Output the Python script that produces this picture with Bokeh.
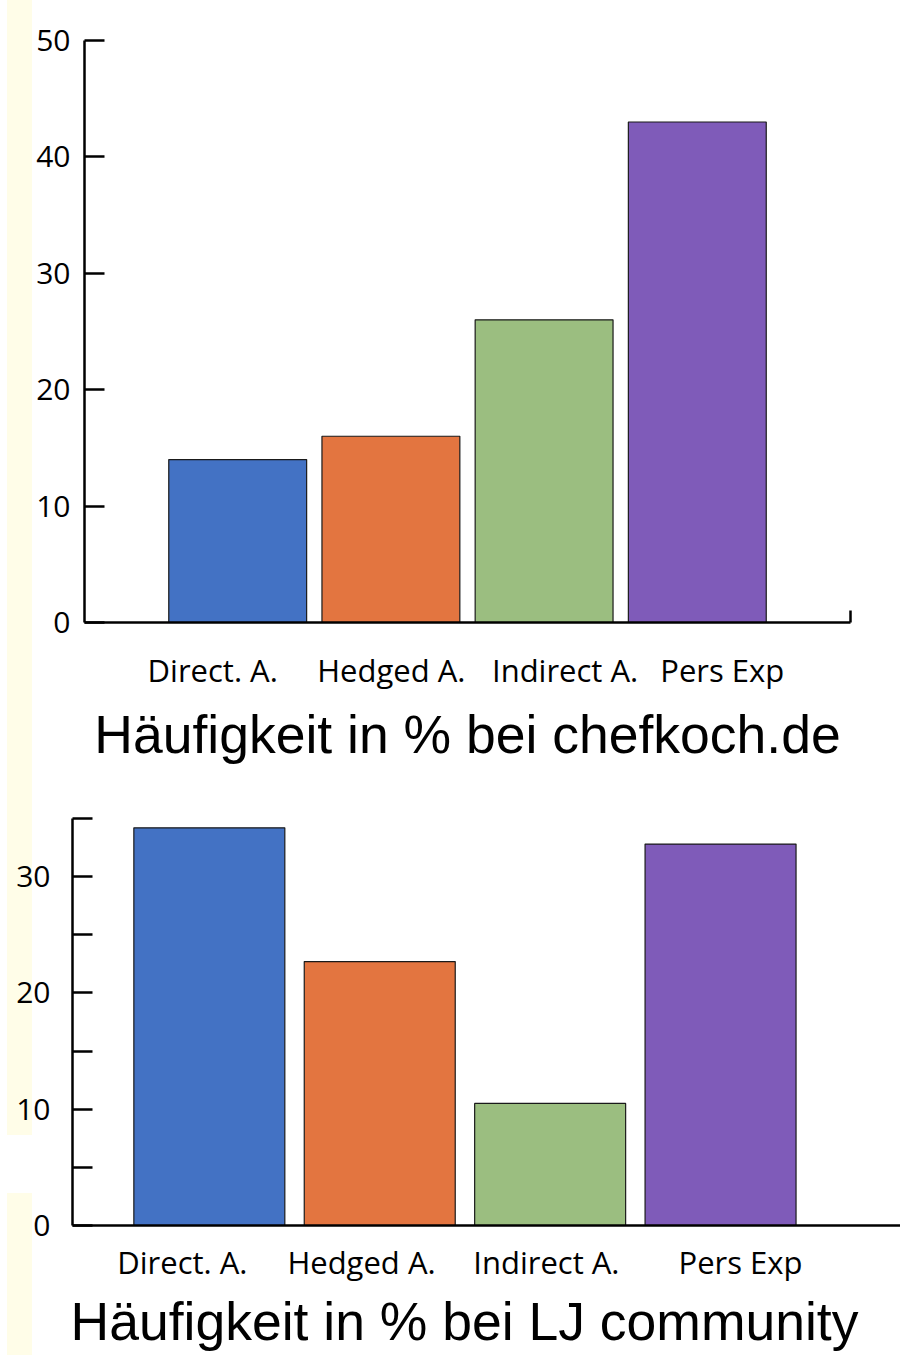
from bokeh.plotting import figure
from bokeh.models import Range1d, FixedTicker, CustomJSTickFormatter
from bokeh.embed import file_html
from bokeh.resources import INLINE
import numpy as np

# ---------------- data ----------------
categories = ["Direct. A.", "Hedged A.", "Indirect A.", "Pers Exp"]
chefkoch_values = [14, 16, 26, 43]
lj_values = [34.2, 22.7, 10.5, 32.8]
bar_colors = ["#4372C4", "#E37540", "#9BBE80", "#7F5BB9"]
title_top = "Häufigkeit in % bei chefkoch.de"
title_bottom = "Häufigkeit in % bei LJ community"
y_ticks_top = [0, 10, 20, 30, 40, 50]
y_ticks_bottom = [0, 10, 20, 30]
y_minor_bottom = [5, 15, 25, 35]

# ---------------- layout tweaks (not data) ----------------
label_shift_top = [-0.163, 0.003, 0.137, 0.163]
label_shift_bottom = [-0.158, -0.107, -0.022, 0.117]
STRIP = "#FFFDE8"

idx = np.arange(len(categories))


def style_common(p, label_standoff_y):
    p.xgrid.visible = False
    p.ygrid.visible = False
    p.outline_line_color = None
    p.border_fill_color = None
    p.background_fill_color = "white"
    for ax in (p.xaxis[0], p.yaxis[0]):
        ax.axis_line_color = "black"
        ax.axis_line_width = 2.5
        ax.major_tick_line_color = "black"
        ax.major_tick_line_width = 2.5
        ax.minor_tick_line_color = "black"
        ax.minor_tick_line_width = 2.5
        ax.major_tick_out = 0
        ax.minor_tick_out = 0
    ya = p.yaxis[0]
    ya.major_tick_in = 20
    ya.minor_tick_in = 20
    ya.major_label_standoff = label_standoff_y
    ya.major_label_text_font = "Open Sans"
    ya.major_label_text_font_size = "30px"
    ya.major_label_text_color = "black"
    xa = p.xaxis[0]
    xa.major_tick_in = 0
    xa.major_label_text_font = "Open Sans"
    xa.major_label_text_font_size = "31px"
    xa.major_label_text_color = "black"
    xa.formatter = CustomJSTickFormatter(args=dict(labels=categories),
                                         code="return labels[index] ?? ''")
    p.title.text_font = "Liberation Sans"
    p.title.text_font_size = "53.5px"
    p.title.text_font_style = "normal"
    p.title.text_color = "black"
    p.title.align = "center"


# ---------------- top chart ----------------
p1 = figure(width=900, height=790, x_range=Range1d(-1, 4), y_range=Range1d(0, 50),
            output_backend="svg", toolbar_location=None,
            title=title_top, title_location="below",
            min_border_left=84, min_border_right=50, min_border_top=40, min_border_bottom=168)
p1.vbar(x=idx, top=chefkoch_values, width=0.9, bottom=0,
        fill_color=bar_colors, line_color="#1a1a1a", line_width=1.2)
style_common(p1, 14)
p1.yaxis[0].ticker = FixedTicker(ticks=y_ticks_top, minor_ticks=[])
p1.xaxis[0].ticker = FixedTicker(ticks=list(idx + np.array(label_shift_top)),
                                 minor_ticks=[p1.x_range.end])
p1.xaxis[0].minor_tick_in = 12
p1.xaxis[0].major_label_standoff = 26
p1.title.standoff = 18
p1.styles = {"background": f"linear-gradient(to right, #ffffff 7px, {STRIP} 7px, {STRIP} 32px, #ffffff 32px)"}

# ---------------- bottom chart ----------------
p2 = figure(width=900, height=565, x_range=Range1d(-0.803, 4.056), y_range=Range1d(0, 35),
            output_backend="svg", toolbar_location=None,
            title=title_bottom, title_location="below",
            min_border_left=72, min_border_right=0, min_border_top=28, min_border_bottom=130)
p2.vbar(x=idx, top=lj_values, width=0.886, bottom=0,
        fill_color=bar_colors, line_color="#1a1a1a", line_width=1.2)
style_common(p2, 22)
p2.yaxis[0].ticker = FixedTicker(ticks=y_ticks_bottom, minor_ticks=y_minor_bottom)
p2.xaxis[0].ticker = FixedTicker(ticks=list(idx + np.array(label_shift_bottom)), minor_ticks=[])
p2.xaxis[0].major_label_standoff = 15
p2.title.standoff = 8
p2.title.align = "left"
p2.title.offset = -2
p2.styles = {"background": "linear-gradient(#ffffff, #ffffff) 0px 345px / 40px 58px no-repeat, "
                           f"linear-gradient(to right, #ffffff 7px, {STRIP} 7px, {STRIP} 32px, #ffffff 32px)"}

open("out.html", "w").write(file_html([p1, p2], INLINE))
